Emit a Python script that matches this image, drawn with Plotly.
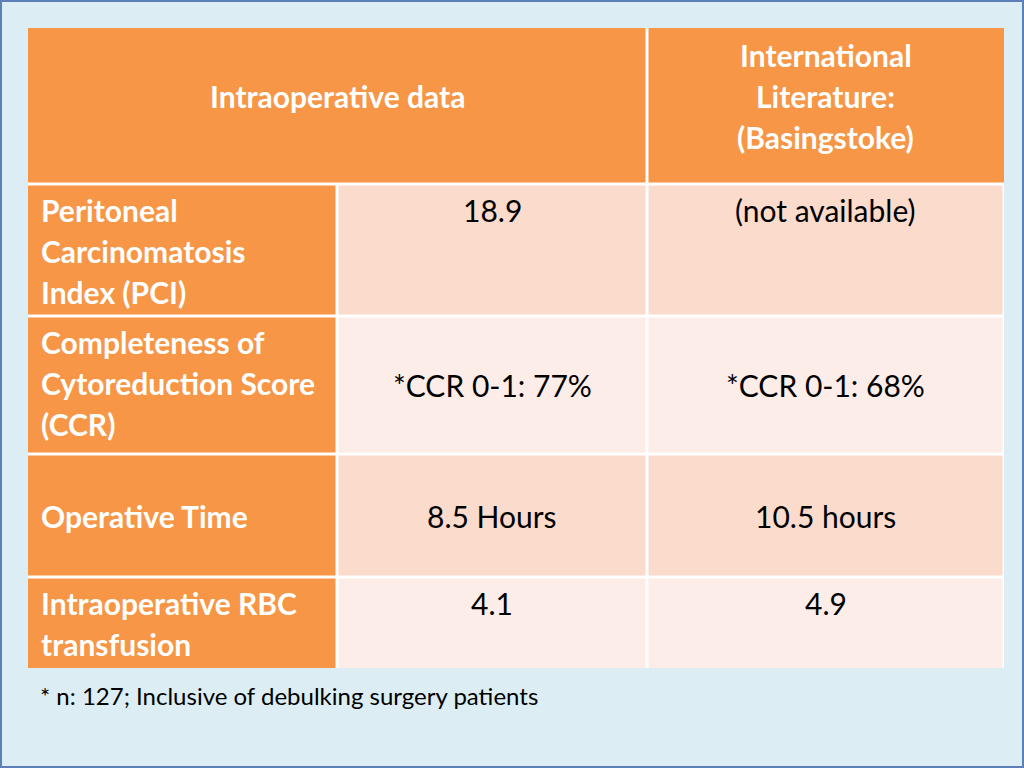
import plotly.graph_objects as go

# ---- data ----
header_left = "Intraoperative data"
header_right = ["International", "Literature:", "(Basingstoke)"]
row_labels = [
    ["Peritoneal", "Carcinomatosis", "Index (PCI)"],
    ["Completeness of", "Cytoreduction Score", "(CCR)"],
    ["Operative Time"],
    ["Intraoperative RBC", "transfusion"],
]
study_values = ["18.9", "*CCR 0-1: 77%", "8.5 Hours", "4.1"]
literature_values = ["(not available)", "*CCR 0-1: 68%", "10.5 hours", "4.9"]
footnote = "* n: 127; Inclusive of debulking surgery patients"

# ---- layout geometry (pixels) ----
W, H = 1024, 768
col_edges = [28, 337, 647, 1004]
row_edges = [28, 184, 316, 454, 577, 668]
value_valign = ["top", "middle", "middle", "top"]
label_valign = ["top", "top", "middle", "top"]

ORANGE = "#F79646"
ROW_FILL = ["#FBDBCC", "#FDEDE8", "#FBDBCC", "#FDEDE8"]
BG = "#DCEEF4"
FONT = "Lato"
FS = 30
LINE = 41

shapes = []
annotations = []

# background
shapes.append(dict(type="rect", xref="x", yref="y", x0=1, y0=1, x1=W - 1, y1=H - 1,
                   fillcolor=BG, line=dict(color="#5B7FB8", width=2), layer="below"))
# white table base (gridlines)
shapes.append(dict(type="rect", xref="x", yref="y", x0=col_edges[0], y0=row_edges[0],
                   x1=col_edges[-1], y1=row_edges[-1], fillcolor="white",
                   line=dict(width=0), layer="below"))

g = 1.5  # half gridline width
# header cells
shapes.append(dict(type="rect", xref="x", yref="y", x0=col_edges[0], y0=row_edges[0],
                   x1=col_edges[2] - g, y1=row_edges[1] - g, fillcolor=ORANGE,
                   line=dict(width=0), layer="below"))
shapes.append(dict(type="rect", xref="x", yref="y", x0=col_edges[2] + g, y0=row_edges[0],
                   x1=col_edges[3], y1=row_edges[1] - g, fillcolor=ORANGE,
                   line=dict(width=0), layer="below"))


def add_lines(lines, x, xanchor, ytop, ybot, valign, color, bold, shift=0):
    n = len(lines)
    if valign == "top":
        y0 = ytop + 26
    else:
        y0 = (ytop + ybot) / 2 - (n - 1) * LINE / 2
    y0 += shift
    for i, t in enumerate(lines):
        txt = f"<b>{t}</b>" if bold else t
        annotations.append(dict(x=x, y=y0 + i * LINE, xref="x", yref="y", text=txt,
                                showarrow=False, xanchor=xanchor, yanchor="middle",
                                font=dict(family=FONT, size=FS, color=color)))


add_lines([header_left], (col_edges[0] + col_edges[2]) / 2, "center",
          row_edges[0], row_edges[1], "middle", "white", True, shift=-10)
add_lines(header_right, (col_edges[2] + col_edges[3]) / 2, "center",
          row_edges[0], row_edges[1], "middle", "white", True, shift=-10)

for r in range(len(row_labels)):
    yt = row_edges[r + 1] + g
    yb = row_edges[r + 2] - g
    if r == len(row_labels) - 1:
        yb = row_edges[r + 2]
    shapes.append(dict(type="rect", xref="x", yref="y", x0=col_edges[0], y0=yt,
                       x1=col_edges[1] - g, y1=yb, fillcolor=ORANGE,
                       line=dict(width=0), layer="below"))
    shapes.append(dict(type="rect", xref="x", yref="y", x0=col_edges[1] + g, y0=yt,
                       x1=col_edges[2] - g, y1=yb, fillcolor=ROW_FILL[r],
                       line=dict(width=0), layer="below"))
    shapes.append(dict(type="rect", xref="x", yref="y", x0=col_edges[2] + g, y0=yt,
                       x1=col_edges[3] - g, y1=yb, fillcolor=ROW_FILL[r],
                       line=dict(width=0), layer="below"))
    ytop = row_edges[r + 1]
    ybot = row_edges[r + 2]
    add_lines(row_labels[r], col_edges[0] + 11, "left", ytop, ybot, label_valign[r], "white", True)
    add_lines([study_values[r]], (col_edges[1] + col_edges[2]) / 2, "center",
              ytop, ybot, value_valign[r], "black", False)
    add_lines([literature_values[r]], (col_edges[2] + col_edges[3]) / 2, "center",
              ytop, ybot, value_valign[r], "black", False)

annotations.append(dict(x=38, y=695, xref="x", yref="y", text=footnote, showarrow=False,
                        xanchor="left", yanchor="middle",
                        font=dict(family=FONT, size=24, color="black")))

fig = go.Figure()
fig.update_layout(
    width=W, height=H, margin=dict(l=0, r=0, t=0, b=0),
    paper_bgcolor=BG, plot_bgcolor=BG,
    xaxis=dict(range=[0, W], visible=False, fixedrange=True),
    yaxis=dict(range=[H, 0], visible=False, fixedrange=True),
    shapes=shapes, annotations=annotations, showlegend=False,
)
fig.write_html("out.html", config={"displayModeBar": False},
               post_script="document.body.style.margin='0';document.body.style.overflow='hidden';")
